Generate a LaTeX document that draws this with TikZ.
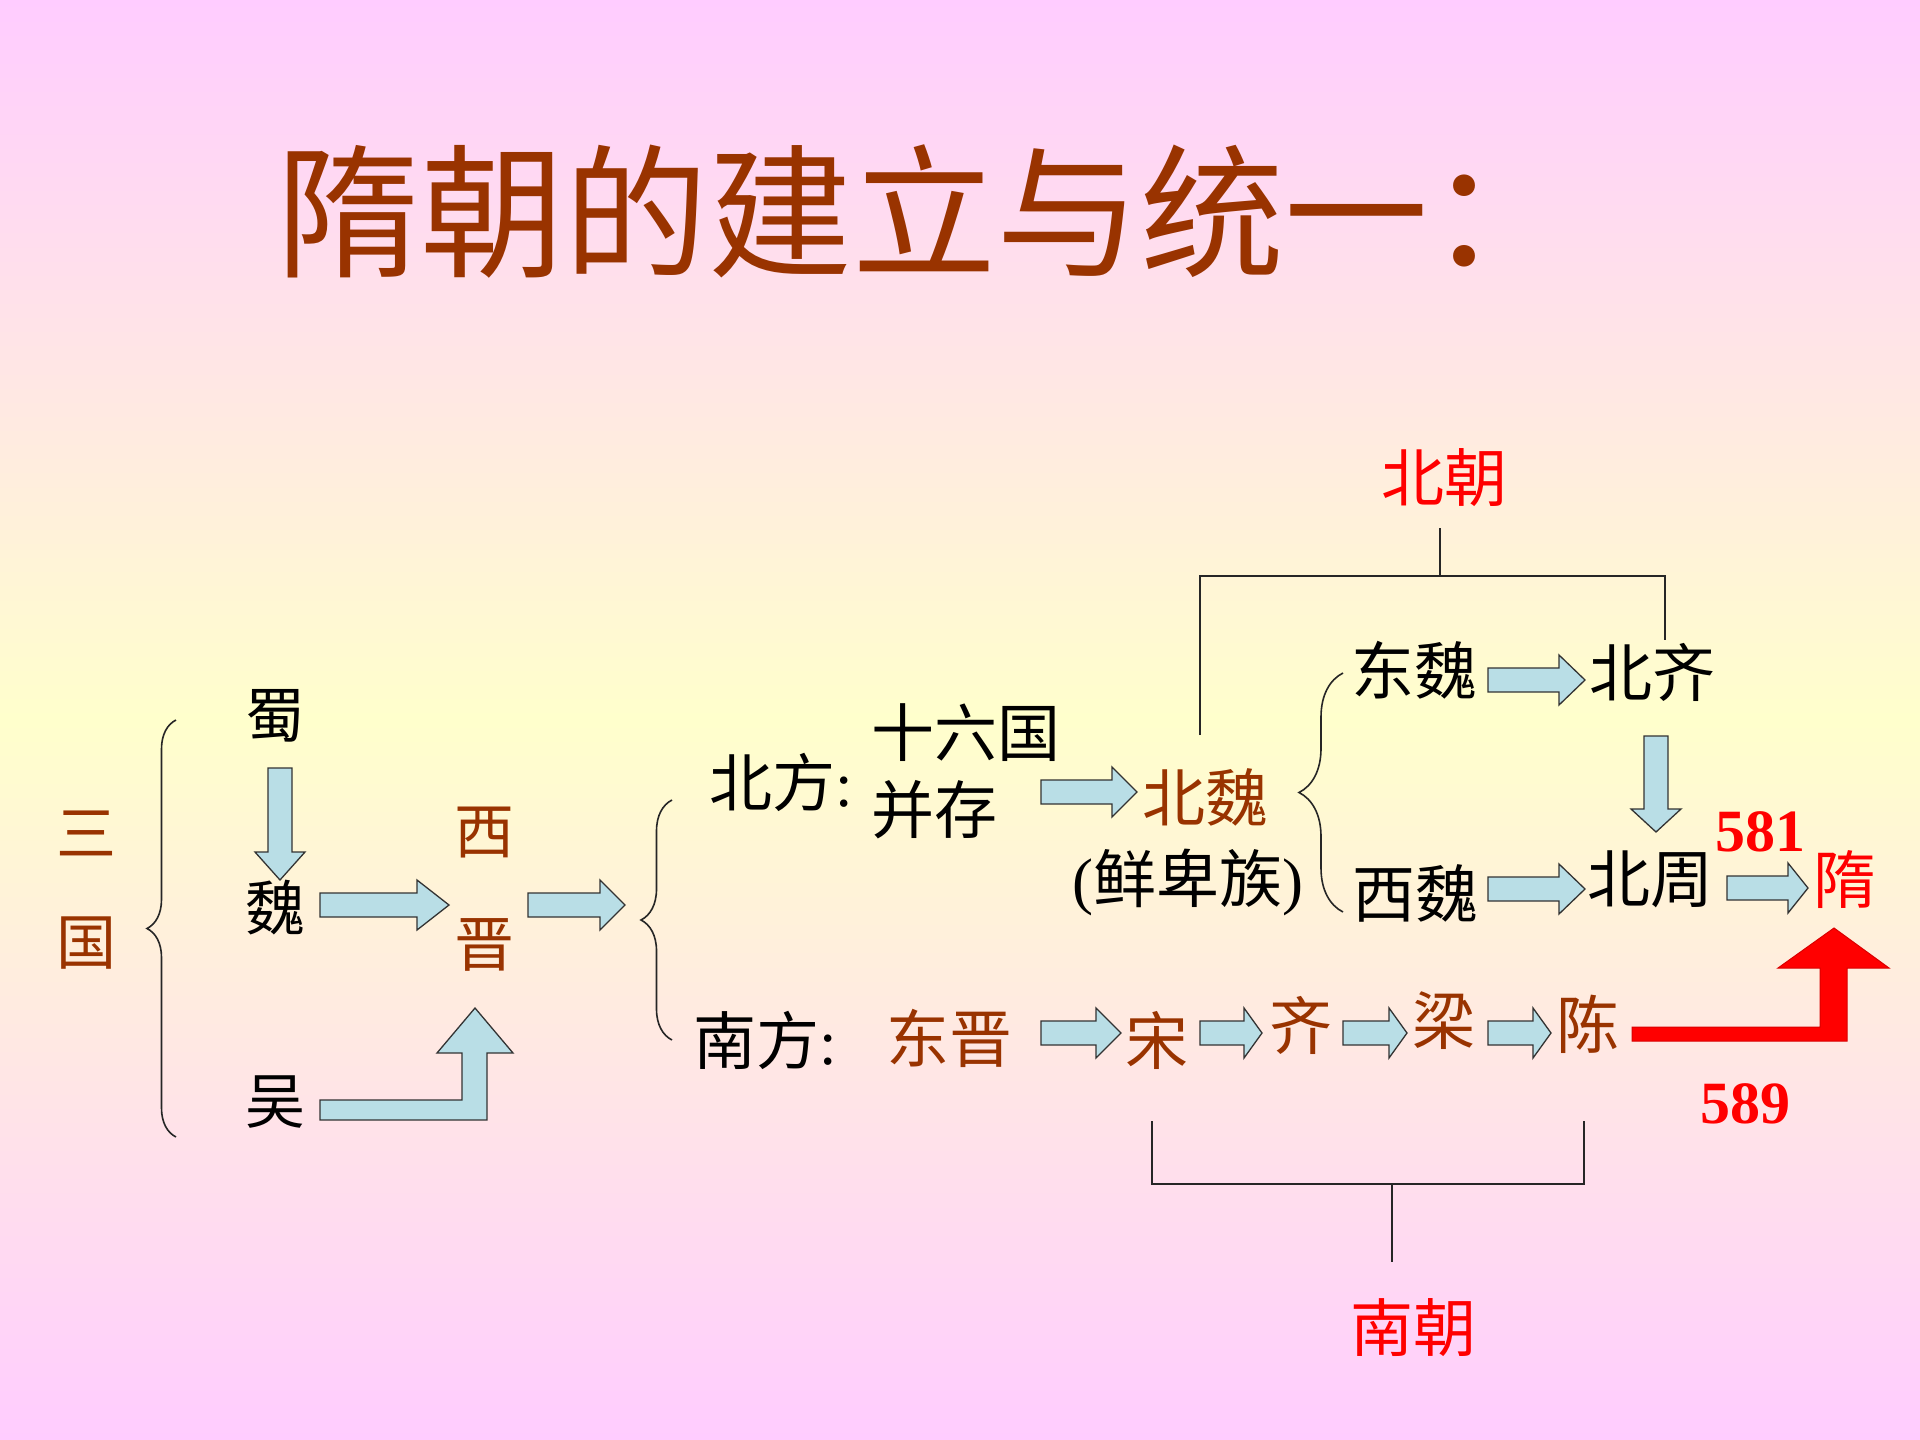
\documentclass[tikz,border=0pt]{standalone}
\usepackage{fontspec}
\setmainfont{Liberation Serif}
\newfontfamily\cjk{Noto Sans CJK SC}
\usetikzlibrary{decorations.pathreplacing}
\definecolor{bgpink}{RGB}{255,204,255}
\definecolor{bgyellow}{RGB}{255,255,204}
\definecolor{brownc}{RGB}{153,51,0}
\definecolor{arrfill}{RGB}{185,222,230}
\newcommand\harr[4]{%
  \draw[barrow] (#1,#3-12) -- (#2-#4,#3-12) -- (#2-#4,#3-25) -- (#2,#3) -- (#2-#4,#3+25) -- (#2-#4,#3+12) -- (#1,#3+12) -- cycle;}
\newcommand\varr[4]{%
  \draw[barrow] (#1-12,#2) -- (#1-12,#3-#4) -- (#1-25,#3-#4) -- (#1,#3) -- (#1+25,#3-#4) -- (#1+12,#3-#4) -- (#1+12,#2) -- cycle;}
\tikzset{
  tbase/.style={inner sep=0pt, outer sep=0pt},
  tbig/.style={tbase, font=\cjk\fontsize{63}{70}\selectfont},
  tmid/.style={tbase, font=\cjk\fontsize{60}{66}\selectfont},
  tbrn/.style={text=brownc},
  tred/.style={text=red},
  tnum/.style={tbase, text=red, font=\rmfamily\bfseries\fontsize{60}{66}\selectfont},
  barrow/.style={draw=black!80, line width=1.3pt, fill=arrfill, line join=miter},
  tline/.style={line width=1.8pt, black!85},
  tbrace/.style={decorate, line width=1.6pt, black!85}
}
\begin{document}
\begin{tikzpicture}[x=1pt,y=-1pt]
\useasboundingbox (0,0) rectangle (1920,1440);
\fill[top color=bgpink, bottom color=bgpink, middle color=bgyellow] (0,0) rectangle (1920,1440);

% title
\node[tbase, anchor=west, text=brownc, font=\cjk\fontsize{144}{150}\selectfont] (title) at (276,211) {隋朝的建立与统一：};

% three kingdoms
\node[tmid, tbrn] (san) at (86,833) {三};
\node[tmid, tbrn] (guo) at (86,943) {国};
\draw[tbrace, decoration={brace, amplitude=29pt}] (176,1137) -- (176,720);
\node[tmid] (shu) at (275,716) {蜀};
\node[tmid] (wei) at (275,908) {魏};
\node[tmid] (wu) at (275,1102) {吴};
\node[tmid, tbrn] (xi) at (484,833) {西};
\node[tmid, tbrn] (jin) at (484,945) {晋};

\varr{280}{768}{880}{28}
\harr{320}{449}{905}{32}
\harr{528}{625}{905}{25}
\draw[barrow] (320,1100) -- (462,1100) -- (462,1053) -- (437,1053) -- (475,1008) -- (513,1053) -- (487,1053) -- (487,1120) -- (320,1120) -- cycle;

\draw[tbrace, decoration={brace, amplitude=31pt}] (672,1040) -- (672,800);

% north
\node[tbig] (beifang) at (781,782) {北方{\rmfamily:}};
\node[tbig, anchor=west] (shiliu) at (871,733) {十六国};
\node[tbig, anchor=west] (bingcun) at (871,810) {并存};
\harr{1041}{1137}{792}{25}
\node[tbig, tbrn] (beiwei) at (1205,797) {北魏};
\node[tbig] (xianbei) at (1188,882) {{\rmfamily(}鲜卑族{\rmfamily)}};

\draw[tbrace, decoration={brace, amplitude=44pt}] (1343,912) -- (1343,673);
\node[tbig] (dongwei) at (1414,670) {东魏};
\node[tbig] (beiqi) at (1652,672) {北齐};
\node[tbig] (xiwei) at (1415,893) {西魏};
\node[tbig] (beizhou) at (1650,879) {北周};
\harr{1488}{1585}{680}{26}
\harr{1488}{1585}{889}{26}
\varr{1656}{736}{832}{23}
\harr{1727}{1808}{888}{20}
\node[tnum] (n581) at (1760,832) {581};
\node[tbig, tred] (sui) at (1845,880) {隋};

% northern dynasties bracket
\node[tbig, tred] (beichao) at (1444,478) {北朝};
\draw[tline] (1440,528) -- (1440,576);
\draw[tline] (1200,735) -- (1200,576) -- (1665,576) -- (1665,640);

% south
\node[tbig] (nanfang) at (765,1040) {南方{\rmfamily:}};
\node[tbig, tbrn] (dongjin) at (949,1038) {东晋};
\harr{1041}{1121}{1033}{25}
\node[tbig, tbrn] (song) at (1157,1040) {宋};
\harr{1200}{1262}{1033}{18}
\node[tbig, tbrn] (qi) at (1301,1025) {齐};
\harr{1343}{1407}{1033}{18}
\node[tbig, tbrn] (liang) at (1444,1021) {梁};
\harr{1488}{1551}{1033}{18}
\node[tbig, tbrn] (chen) at (1588,1024) {陈};

% red arrow
\draw[fill=red, draw=red!85!black, line width=1pt] (1632,1027) -- (1820,1027) -- (1820,968) -- (1778,968) -- (1834,928) -- (1889,968) -- (1847,968) -- (1847,1041) -- (1632,1041) -- cycle;
\node[tnum] (n589) at (1745,1104) {589};

% southern dynasties bracket
\draw[tline] (1152,1121) -- (1152,1184) -- (1584,1184) -- (1584,1121);
\draw[tline] (1392,1184) -- (1392,1262);
\node[tbig, tred] (nanchao) at (1413,1328) {南朝};
\end{tikzpicture}
\end{document}
